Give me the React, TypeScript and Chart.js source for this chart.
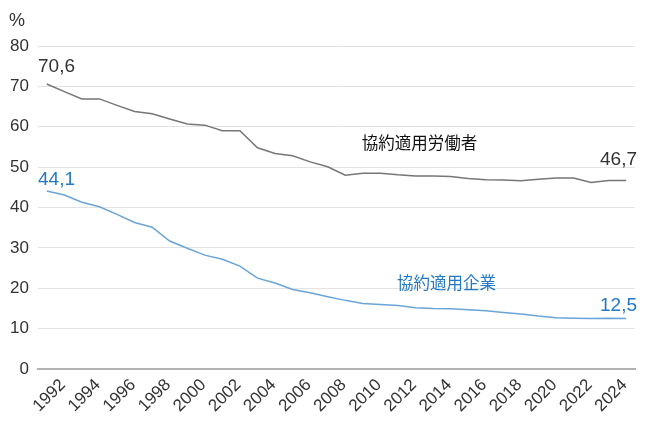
import { useEffect, useRef } from "react";
import { Chart, registerables } from "chart.js";

Chart.register(...registerables);

// Years 1992–2025
const years: string[] = [
  "1992", "1993", "1994", "1995", "1996", "1997", "1998", "1999", "2000", "2001",
  "2002", "2003", "2004", "2005", "2006", "2007", "2008", "2009", "2010", "2011",
  "2012", "2013", "2014", "2015", "2016", "2017", "2018", "2019", "2020", "2021",
  "2022", "2023", "2024", "2025",
];

// 協約適用労働者 (%)
const workers: number[] = [
  70.6, 68.7, 66.9, 66.9, 65.3, 63.8, 63.2, 61.9, 60.7, 60.4,
  59.0, 59.0, 54.8, 53.4, 52.8, 51.3, 50.1, 48.0, 48.5, 48.5,
  48.1, 47.8, 47.8, 47.7, 47.2, 46.9, 46.8, 46.6, 47.0, 47.3,
  47.3, 46.2, 46.7, 46.7,
];

// 協約適用企業 (%)
const companies: number[] = [
  44.1, 43.1, 41.3, 40.2, 38.3, 36.3, 35.1, 31.7, 29.9, 28.2,
  27.2, 25.5, 22.5, 21.3, 19.7, 18.9, 17.9, 17.0, 16.2, 16.0,
  15.7, 15.2, 15.0, 14.9, 14.7, 14.4, 14.0, 13.6, 13.1, 12.7,
  12.6, 12.5, 12.6, 12.5,
];

const yTickValues: number[] = [0, 10, 20, 30, 40, 50, 60, 70, 80];

const workersName = "協約適用労働者";
const companiesName = "協約適用企業";
const unitLabel = "%";

const LATIN = '"Liberation Sans", Arial, sans-serif';
const CJK = '"Noto Sans CJK JP", "Noto Sans CJK SC", sans-serif';
const GREY_LINE = "#767676";
const BLUE_LINE = "#6aa4d9";
const BLUE_TEXT = "#2379c3";
const DARK_TEXT = "#333333";

const fmt = (v: number) => v.toFixed(1).replace(".", ",");

const annotations = {
  id: "annotations",
  afterDatasetsDraw(chart: any) {
    const { ctx, scales } = chart;
    const x = scales.x;
    const y = scales.y;
    const last = years.length - 1;
    ctx.save();

    // unit label above the axis
    ctx.font = `18px ${LATIN}`;
    ctx.fillStyle = DARK_TEXT;
    ctx.textAlign = "left";
    ctx.textBaseline = "alphabetic";
    ctx.fillText(unitLabel, 9, 26);

    // start / end values
    ctx.font = `19px ${LATIN}`;
    ctx.fillStyle = DARK_TEXT;
    ctx.textAlign = "left";
    ctx.fillText(fmt(workers[0]), x.left, y.getPixelForValue(workers[0]) - 12);
    ctx.textAlign = "right";
    ctx.fillText(fmt(workers[last]), x.right + 2, y.getPixelForValue(workers[last]) - 15);

    ctx.fillStyle = BLUE_TEXT;
    ctx.textAlign = "left";
    ctx.fillText(fmt(companies[0]), x.left, y.getPixelForValue(companies[0]) - 6);
    ctx.textAlign = "right";
    ctx.fillText(fmt(companies[last]), x.right + 2, y.getPixelForValue(companies[last]) - 8);

    // series names
    ctx.font = `16.5px ${CJK}`;
    ctx.textBaseline = "middle";
    ctx.textAlign = "left";
    ctx.fillStyle = "#111111";
    ctx.fillText(workersName, x.getPixelForValue(18) - 1, y.getPixelForValue(56));
    ctx.fillStyle = BLUE_TEXT;
    ctx.fillText(companiesName, x.getPixelForValue(20) - 1, y.getPixelForValue(21.4));

    ctx.restore();
  },
};

export default function App() {
  const canvasRef = useRef<HTMLCanvasElement | null>(null);

  useEffect(() => {
    const canvas = canvasRef.current;
    if (!canvas) return;
    const chart = new Chart(canvas, {
      type: "line",
      data: {
        labels: years,
        datasets: [
          {
            label: workersName,
            data: workers,
            borderColor: GREY_LINE,
            borderWidth: 1.5,
            pointRadius: 0,
            tension: 0,
            fill: false,
          },
          {
            label: companiesName,
            data: companies,
            borderColor: BLUE_LINE,
            borderWidth: 1.5,
            pointRadius: 0,
            tension: 0,
            fill: false,
          },
        ],
      },
      options: {
        responsive: false,
        animation: false,
        devicePixelRatio: 1,
        layout: { padding: { top: 46, right: 12, left: 0, bottom: 0 } },
        plugins: {
          legend: { display: false },
          tooltip: { enabled: false },
        },
        scales: {
          x: {
            type: "category",
            offset: true,
            grid: { display: false, drawTicks: false },
            border: { display: true, color: "#b3b3b3", width: 2 },
            ticks: {
              autoSkip: false,
              minRotation: 45,
              maxRotation: 45,
              padding: 6,
              labelOffset: 16,
              color: DARK_TEXT,
              font: { family: LATIN, size: 17 },
              callback: (_v: any, i: number) => (Number(years[i]) % 2 === 0 ? years[i] : ""),
            },
            afterFit: (scale: any) => {
              scale.height = 56;
            },
          },
          y: {
            min: 0,
            max: 80,
            afterBuildTicks: (scale: any) => {
              scale.ticks = yTickValues.map((v) => ({ value: v }));
            },
            grid: { color: "#e3e3e3", lineWidth: 1, drawTicks: false },
            border: { display: false },
            ticks: {
              padding: 9,
              color: DARK_TEXT,
              font: { family: LATIN, size: 17 },
            },
            afterFit: (scale: any) => {
              scale.width = 38;
            },
          },
        },
      },
      plugins: [annotations],
    });
    return () => chart.destroy();
  }, []);

  return (
    <div style={{ position: "fixed", left: 0, top: 0, width: 647, height: 425, background: "#ffffff" }}>
      <canvas ref={canvasRef} width={647} height={425} />
    </div>
  );
}
